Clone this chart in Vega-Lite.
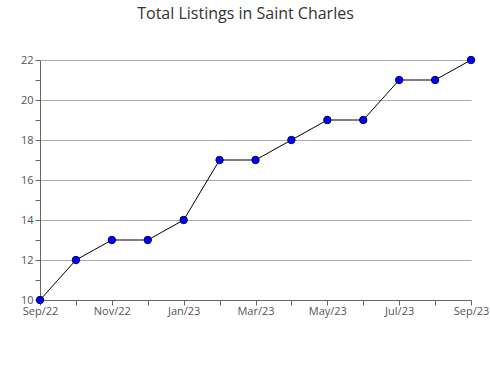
{
  "$schema": "https://vega.github.io/schema/vega-lite/v6.json",
  "autosize": "none",
  "width": 431,
  "height": 240,
  "padding": {"left": 40, "top": 60, "right": 19, "bottom": 80},
  "background": "white",
  "title": {"text": "Total Listings in Saint Charles", "fontSize": 16, "font": "Open Sans", "fontWeight": "normal", "color": "#333333", "offset": 32, "dx": -10},
  "data": {"values": [
    {"m": "Sep/22", "v": 10}, {"m": "Oct/22", "v": 12}, {"m": "Nov/22", "v": 13},
    {"m": "Dec/22", "v": 13}, {"m": "Jan/23", "v": 14}, {"m": "Feb/23", "v": 17},
    {"m": "Mar/23", "v": 17}, {"m": "Apr/23", "v": 18}, {"m": "May/23", "v": 19},
    {"m": "Jun/23", "v": 19}, {"m": "Jul/23", "v": 21}, {"m": "Aug/23", "v": 21},
    {"m": "Sep/23", "v": 22}
  ]},
  "encoding": {
    "x": {"field": "m", "type": "ordinal", "sort": null,
      "scale": {"type": "point", "padding": 0},
      "axis": {"title": null, "labelAngle": 0, "labelFont": "Open Sans", "labelFontSize": 11, "labelColor": "#555555",
        "labelExpr": "indexof(['Oct/22','Dec/22','Feb/23','Apr/23','Jun/23','Aug/23'], datum.value) >= 0 ? '' : datum.value",
        "domainColor": "#666666", "tickColor": "#666666", "tickSize": 5, "labelPadding": 0, "grid": false}},
    "y": {"field": "v", "type": "quantitative",
      "scale": {"domain": [10, 22], "nice": false, "zero": false},
      "axis": {"title": null, "values": [10,11,12,13,14,15,16,17,18,19,20,21,22],
        "labelExpr": "datum.value % 2 === 0 ? datum.label : ''",
        "labelFont": "Open Sans", "labelFontSize": 11, "labelColor": "#555555",
        "domainColor": "#666666", "tickColor": "#666666", "tickSize": 5, "labelPadding": 2,
        "grid": true, "gridColor": "#aaaaaa",
        "gridOpacity": {"condition": {"test": "datum.value % 2 === 1", "value": 0}, "value": 1}}}
  },
  "layer": [
    {"mark": {"type": "line", "color": "black", "strokeWidth": 1}},
    {"mark": {"type": "point", "filled": true, "fill": "#0000ff", "stroke": "#000060", "strokeWidth": 1, "size": 55, "opacity": 1}}
  ],
  "config": {"view": {"stroke": null}}
}
